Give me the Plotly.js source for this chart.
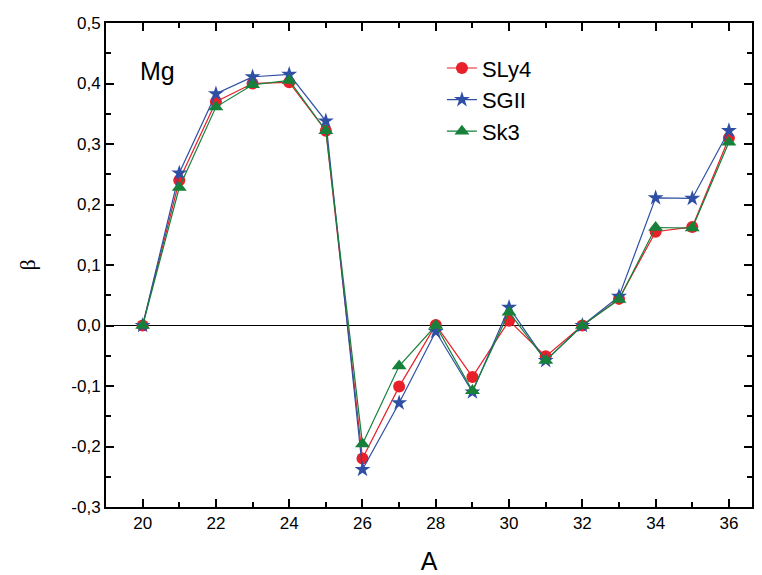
<!DOCTYPE html>
<html>
<head>
<meta charset="utf-8">
<script src="https://cdn.plot.ly/plotly-3.0.1.min.js"></script>
<style>html,body{margin:0;padding:0;background:#fff;}#chart{width:762px;height:575px;}</style>
</head>
<body>
<div id="chart"></div>
<script>
const massNumbers = [20,21,22,23,24,25,26,27,28,29,30,31,32,33,34,35,36];
const sly4 = [0.0,0.240,0.370,0.400,0.402,0.322,-0.220,-0.101,0.001,-0.085,0.008,-0.051,0.0,0.044,0.155,0.163,0.310];
const sgii = [0.0,0.252,0.383,0.411,0.415,0.338,-0.238,-0.128,-0.010,-0.110,0.030,-0.058,0.0,0.048,0.211,0.210,0.322];
const sk3  = [0.0,0.228,0.361,0.398,0.405,0.322,-0.196,-0.067,0.000,-0.108,0.022,-0.058,0.0,0.043,0.162,0.161,0.303];
const seriesNames = ['SLy4','SGII','Sk3'];
const yTickVals = [-0.3,-0.2,-0.1,0.0,0.1,0.2,0.3,0.4,0.5];
const yTickText = ['-0,3','-0,2','-0,1','0,0','0,1','0,2','0,3','0,4','0,5'];
const xTickVals = [20,22,24,26,28,30,32,34,36];

const colors = ['#e8202a','#2e4fa3','#17803a'];
const symbols = ['circle','star','triangle-up'];
const sizes = [12,12,13];
const data = [sly4, sgii, sk3].map((ys,i)=>({
  x: massNumbers, y: ys, name: seriesNames[i], type:'scatter', mode:'lines+markers',
  line:{color:colors[i], width:1.2},
  marker:{color:colors[i], symbol:symbols[i], size:sizes[i]}
}));

const axisCommon = {
  showline:true, linecolor:'#000', linewidth:2, mirror:'ticks',
  ticks:'inside', ticklen:8, tickwidth:2, tickcolor:'#000',
  showgrid:false, tickfont:{family:'Liberation Sans, Arial, sans-serif', size:17, color:'#000'}
};

const layout = {
  width:762, height:575,
  margin:{l:106, r:10, t:23, b:68},
  paper_bgcolor:'#fff', plot_bgcolor:'#fff',
  showlegend:true,
  legend:{x:0.52, y:0.95, xanchor:'left', yanchor:'top', bgcolor:'rgba(0,0,0,0)',
    font:{family:'Liberation Sans, Arial, sans-serif', size:22, color:'#000'}, tracegroupgap:0},
  xaxis:Object.assign({}, axisCommon, {
    range:[19, 36.63], tickvals:xTickVals, zeroline:false,
    minor:{dtick:1, ticklen:5, tickwidth:2, tickcolor:'#000', ticks:'inside'},
    title:{text:'A', font:{family:'Liberation Sans, Arial, sans-serif', size:25, color:'#000'}, standoff:20}
  }),
  yaxis:Object.assign({}, axisCommon, {
    range:[-0.3, 0.5], tickvals:yTickVals, ticktext:yTickText,
    zeroline:true, zerolinecolor:'#000', zerolinewidth:1.5,
    minor:{dtick:0.05, tick0:0, ticklen:5, tickwidth:2, tickcolor:'#000', ticks:'inside'},
    title:{text:'β', font:{family:'Liberation Serif, Times New Roman, serif', size:22, color:'#000'}, standoff:30}
  }),
  annotations:[{text:'Mg', xref:'paper', yref:'paper', x:0.05, y:0.9, xanchor:'left', yanchor:'middle',
    showarrow:false, font:{family:'Liberation Sans, Arial, sans-serif', size:25, color:'#000'}}]
};

Plotly.newPlot('chart', data, layout, {displayModeBar:false, staticPlot:true});
</script>
</body>
</html>
